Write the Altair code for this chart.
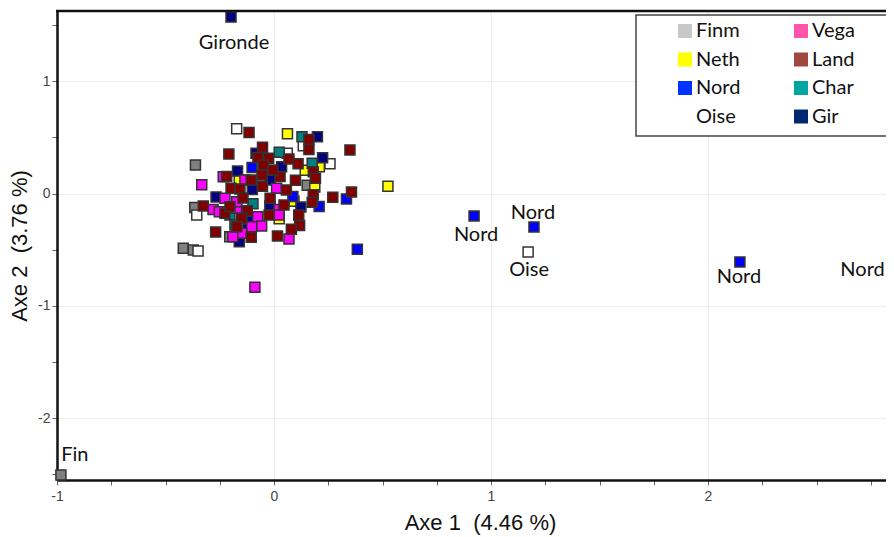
import altair as alt
import pandas as pd

# ---------------- data ----------------
categories = ["Finm", "Neth", "Nord", "Oise", "Vega", "Land", "Char", "Gir"]
plot_colors = ["#808080", "#ffff00", "#0000ff", "#ffffff", "#ff00ff", "#800000", "#008080", "#000080"]
legend_colors = ["#c8c8c8", "#ffff00", "#0033ff", "#ffffff", "#ff55aa", "#a0483f", "#00a5a0", "#002a70"]

finm_x = [-0.362, 0.153, -0.365, -0.204, -0.418, -0.372, -0.982]
finm_y = [0.254, 0.074, -0.125, -0.384, -0.488, -0.503, -2.504]

oise_x = [-0.172, 0.061, 0.258, 0.135, -0.356, -0.350, 1.171]
oise_y = [0.577, 0.358, 0.265, 0.425, -0.191, -0.512, -0.520]

neth_x = [0.062, 0.144, 0.209, 0.188, 0.525, 0.092, 0.024, -0.160]
neth_y = [0.531, 0.206, 0.238, 0.058, 0.064, -0.069, -0.225, 0.120]

char_x = [0.129, 0.024, 0.176, -0.097, -0.203, -0.180]
char_y = [0.505, 0.367, 0.269, -0.091, -0.191, -0.280]

nord_x = [-0.101, 0.334, 0.087, 0.208, 0.384, 0.922, 1.198, 2.147, 2.855]
nord_y = [0.231, -0.049, -0.026, -0.116, -0.496, -0.200, -0.298, -0.609, -0.527]

gir_x = [0.200, -0.083, 0.224, -0.168, -0.018, -0.100, -0.267, -0.019, 0.124, -0.103, -0.160, 0.035, -0.120, -0.198]
gir_y = [0.505, 0.358, 0.319, 0.200, 0.120, 0.035, -0.031, -0.109, -0.120, -0.245, -0.429, 0.238, -0.316, 1.570]

vega_x = [-0.333, -0.234, -0.134, 0.012, -0.226, -0.281, -0.252, -0.172, -0.172, -0.075,
          -0.057, 0.023, 0.023, -0.103, -0.149, -0.190, 0.069, -0.088]
vega_y = [0.077, 0.149, 0.120, 0.046, -0.043, -0.143, -0.162, -0.132, -0.073, -0.206,
          -0.289, -0.142, -0.191, -0.295, -0.354, -0.384, -0.405, -0.835]

land_x = [-0.115, 0.161, 0.161, 0.350, -0.053, -0.208, -0.074, -0.025, 0.069, 0.111,
          0.181, -0.049, -0.218, 0.028, 0.099, 0.191, -0.105, -0.198, -0.157, -0.053,
          0.057, 0.357, 0.271, 0.181, -0.326, -0.226, -0.203, -0.123, -0.018, -0.023,
          -0.149, 0.176, 0.114, 0.118, 0.080, -0.269, -0.171, -0.105, 0.016,
          -0.005, 0.046, -0.055, -0.143]
land_y = [0.543, 0.480, 0.391, 0.387, 0.411, 0.351, 0.320, 0.313, 0.307, 0.265,
          0.194, 0.254, 0.151, 0.151, 0.117, 0.135, 0.120, 0.046, 0.040, 0.065,
          0.031, 0.013, -0.034, -0.012, -0.111, -0.176, -0.117, -0.154, -0.043, -0.191,
          -0.221, -0.077, -0.191, -0.285, -0.319, -0.343, -0.295, -0.390, -0.378,
          0.209, -0.102, 0.165, -0.040]

label_text = ["Gironde", "Fin", "Nord", "Nord", "Oise", "Nord", "Nord"]
label_x = [-0.198, -0.982, 0.922, 1.198, 1.171, 2.147, 2.855]
label_y = [1.570, -2.504, -0.200, -0.298, -0.520, -0.609, -0.527]

x_ticks = [round(-1 + 0.25 * i, 2) for i in range(16)]
y_ticks = [round(-2.5 + 0.25 * i, 2) for i in range(17)]

# ---------------- build tables ----------------
series = [("Finm", finm_x, finm_y), ("Oise", oise_x, oise_y), ("Neth", neth_x, neth_y),
          ("Char", char_x, char_y), ("Nord", nord_x, nord_y), ("Gir", gir_x, gir_y),
          ("Vega", vega_x, vega_y), ("Land", land_x, land_y)]
rows = []
for cat, xs, ys in series:
    for xv, yv in zip(xs, ys):
        rows.append({"cat": cat, "x": xv, "y": yv})
df = pd.DataFrame(rows)

labels_df = pd.DataFrame({"text": label_text, "x": label_x, "y": label_y})
legend_df = pd.DataFrame({"cat": categories})

# ---------------- scales & axes ----------------
PLOT_W, PLOT_H = 829, 469
xscale = alt.Scale(domain=[-1, -1 + PLOT_W / 217], nice=False, zero=False)
yscale = alt.Scale(domain=[-2.549, 1.624], nice=False, zero=False)

major_expr = "datum.value % 1 === 0 ? '' + datum.value : ''"
grid_op = {"condition": {"test": "datum.value % 1 === 0", "value": 1}, "value": 0}
NB = "\u00a0"

x_axis = alt.Axis(title="Axe 1" + NB + NB + "(4.46" + NB + "%)", values=x_ticks, labelExpr=major_expr,
                  gridOpacity=grid_op, labelFlush=False, labelOverlap=False,
                  labelPadding=4, titlePadding=9, titleX=423, titleAlign="center")
y_axis = alt.Axis(title="Axe 2" + NB + NB + "(3.76" + NB + "%)", values=y_ticks, labelExpr=major_expr,
                  gridOpacity=grid_op, labelFlush=False, labelOverlap=False,
                  labelPadding=2, titlePadding=6)

# ---------------- layers ----------------
top_border = alt.Chart(pd.DataFrame({"a": [0]})).mark_rule(
    color="#111111", strokeWidth=2.5
).encode(x=alt.value(-1), x2=alt.value(PLOT_W + 10), y=alt.value(0))

box = alt.Chart(pd.DataFrame({"a": [0]})).mark_rect(
    fill="white", stroke="#444444", strokeWidth=1.5
).encode(x=alt.value(579), x2=alt.value(PLOT_W + 20), y=alt.value(4), y2=alt.value(125))

points = alt.Chart(df).mark_square(
    size=100, filled=True, stroke="#333333", strokeWidth=1.5, opacity=1
).encode(
    x=alt.X("x:Q", scale=xscale, axis=x_axis),
    y=alt.Y("y:Q", scale=yscale, axis=y_axis),
    fill=alt.Fill("cat:N", scale=alt.Scale(domain=categories, range=plot_colors), legend=None),
)

offsets = [(3, 26), (14, -20), (2, 19), (-1, -14), (1, 18), (-1, 15), (-31, 17)]
label_layers = []
for i, (dx, dy) in enumerate(offsets):
    label_layers.append(
        alt.Chart(labels_df.iloc[[i]]).mark_text(
            dx=dx, dy=dy, font="Lato", fontSize=20, color="#111111", align="center", baseline="middle"
        ).encode(x=alt.X("x:Q", scale=xscale), y=alt.Y("y:Q", scale=yscale), text="text:N")
    )

legend_layer = alt.Chart(legend_df).mark_square(opacity=0).encode(
    x=alt.value(0), y=alt.value(0),
    fill=alt.Fill("cat:N", scale=alt.Scale(domain=categories, range=legend_colors),
                  legend=alt.Legend(title=None, orient="none", legendX=618, legendY=10,
                                    columns=2, symbolType="square", symbolSize=196,
                                    symbolStrokeWidth=0, symbolOpacity=1,
                                    labelFont="Lato", labelFontSize=20, labelColor="#111111",
                                    labelOffset=1, rowPadding=8.5, columnPadding=50,
                                    padding=0)),
)

chart = alt.layer(box, points, *label_layers, top_border, legend_layer).resolve_scale(
    fill="independent"
).properties(
    width=PLOT_W, height=PLOT_H,
    autosize=alt.AutoSizeParams(type="none"),
    padding={"left": 49, "top": 3, "right": 0, "bottom": 55},
).configure_view(
    stroke=None
).configure_axis(
    domain=True, domainColor="#111111", domainWidth=2.5,
    grid=True, gridColor="#ececec", gridWidth=1,
    tickColor="#666666", tickSize=5, tickWidth=1,
    labelFont="Liberation Sans", labelFontSize=14, labelColor="#444444",
    titleFont="Liberation Sans", titleFontSize=22, titleFontWeight="normal", titleColor="#111111",
)

chart.save("out.html", embed_options={"renderer": "svg", "actions": False})
